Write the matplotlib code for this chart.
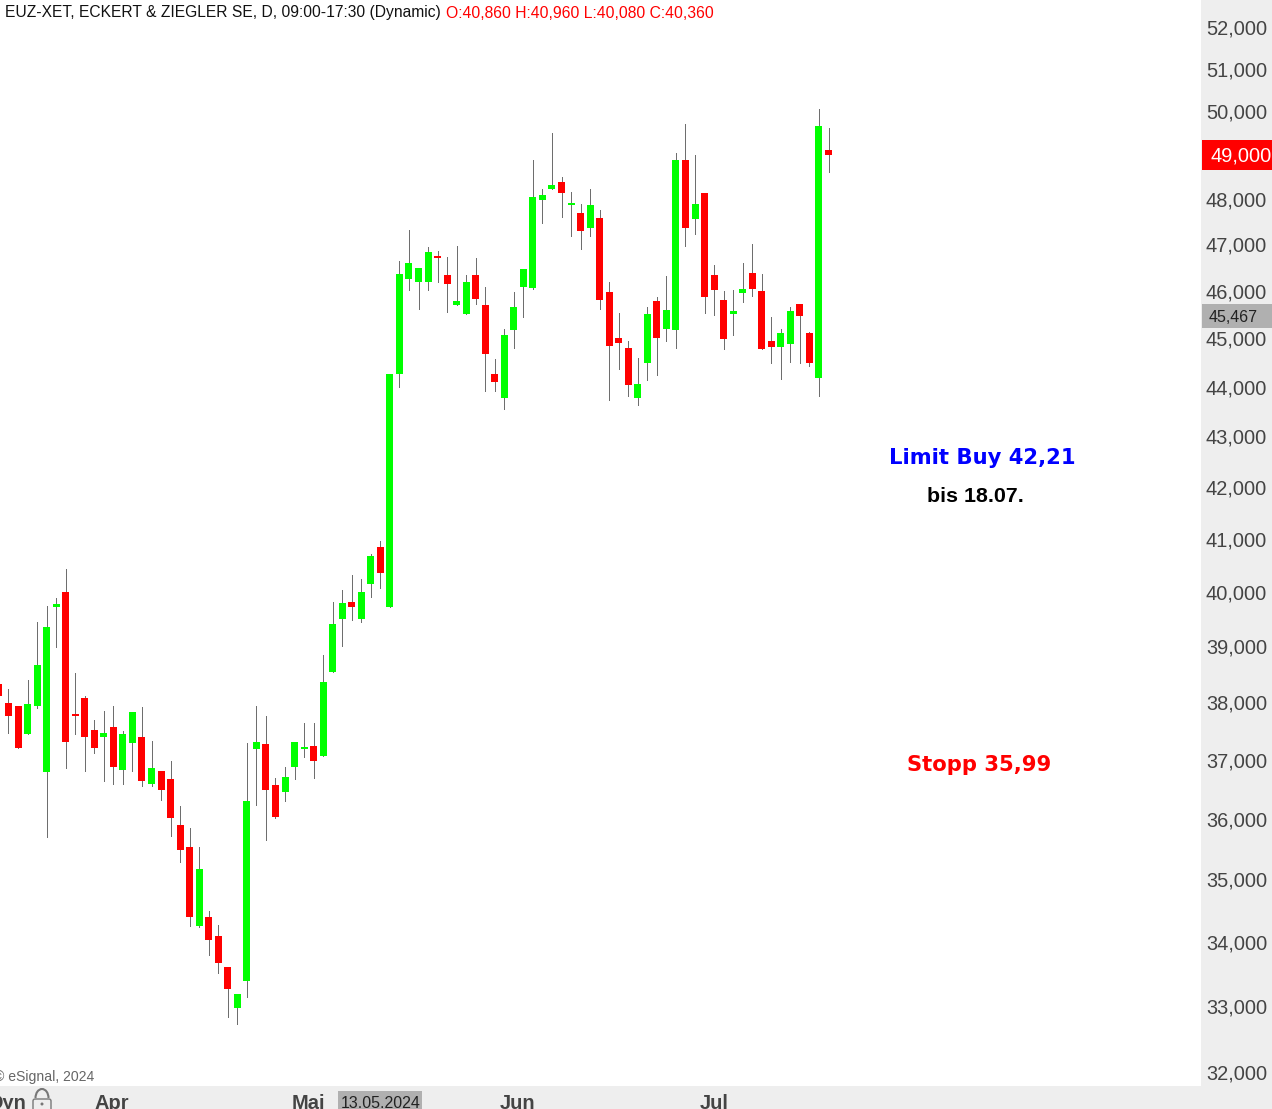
import numpy as np
import matplotlib
matplotlib.use('Agg')
import matplotlib.pyplot as plt
from matplotlib.patches import Rectangle, FancyBboxPatch, Arc, Circle
from matplotlib.transforms import ScaledTranslation

# daily candles
opens = [38330,38000,37940,37450,37940,36800,39730,40010,37800,38090,37520,37400,37580,36830,37300,37400,36590,36820,36680,35900,
         35540,34260,34400,34100,33610,32980,33400,37190,37280,36580,36460,36880,37190,37250,37070,38550,39510,39820,39510,40160,
         40860,39730,44270,46260,46200,46200,46760,46350,45710,45520,46350,45710,44270,43780,45180,46090,46070,47990,48240,48390,
         47880,47700,47370,47590,45990,45010,44800,43780,44490,45790,45200,45180,48890,47570,48150,46350,45810,45520,45960,46390,
         46010,44950,44830,44890,45730,45120,44190,49120]
highs = [38330,38240,37940,38400,39450,39750,39900,40440,38530,38120,37700,37860,37940,37510,37840,37930,37330,36820,36990,36220,
         35850,35540,34500,34280,33610,33200,37300,37940,37770,36700,36880,37320,37650,37650,38850,39820,40040,40320,40250,40720,
         40960,44270,46650,47330,46500,46960,46870,46740,46980,46350,46720,46090,44580,45200,45990,46480,48890,48240,49510,48510,
         48170,47900,48240,47770,46200,45540,44950,44600,45670,45880,46330,49050,49720,49000,48150,46570,46010,46030,46610,47020,
         46370,45450,45200,45670,45730,45140,50060,49620]
lows = [38120,37470,37210,37450,37910,35710,39000,36870,37450,36820,37130,36650,36590,36590,36820,36560,36560,36320,35720,35290,
        34260,34240,33800,33520,32840,32740,33150,36240,35660,36020,36310,36680,37060,36700,37070,38550,39020,39490,39450,39910,
        40080,39730,44000,46030,45620,46030,46200,45560,45710,45520,45730,43920,43920,43550,44800,45450,46050,47480,48240,47610,
        47200,46910,47200,45620,43740,44370,43820,43630,44140,44250,44950,44800,46980,47240,45540,45500,44780,45080,45770,45900,
        44780,44490,44160,44510,44490,44430,43820,48620]
closes = [38120,37770,37210,37980,38670,39360,39780,37320,37770,37400,37210,37470,36880,37450,37840,36650,36870,36490,36020,35490,
          34400,35180,34040,33680,33270,33200,36310,37320,36490,36040,36710,37320,37230,36990,38370,39420,39800,39730,40010,40680,
          40360,44270,46370,46610,46500,46850,46720,46160,45790,46200,45840,44680,44100,45080,45670,46480,48060,48100,48330,48150,
          47920,47310,47880,45810,44850,44910,44040,44060,45520,45010,45600,48890,47370,47900,45880,46030,44990,45580,46050,46050,
          44780,44830,45120,45580,45480,44490,49670,49000]

price_ticks = [32000,33000,34000,35000,36000,37000,38000,39000,40000,41000,42000,43000,44000,45000,46000,47000,48000,50000,51000,52000]
tick_labels = ['32,000','33,000','34,000','35,000','36,000','37,000','38,000','39,000','40,000','41,000','42,000','43,000','44,000','45,000','46,000','47,000','48,000','50,000','51,000','52,000']
months = ['Apr','Mai','Jun','Jul']
month_x = [94.5,291.5,499.5,699.5]

plt.rcParams['font.family'] = ['Liberation Sans','DejaVu Sans']
W, H = 1272, 1109
fig = plt.figure(figsize=(W/100,H/100),dpi=100,facecolor='#eeeeee')

# price pane, log scale, axis labels in the grey strip on the right
ax = fig.add_axes([0,(H-1086)/H,1201/W,1086/H])
ax.set_yscale('log')
step = 9.535
first = -1.035
x = np.arange(len(opens))
o, h, l, c = [np.array(v) for v in (opens,highs,lows,closes)]
ax.set_xlim(-first/step,(1201-first)/step)
ax.set_ylim(31807,52661)
colors = ['#00ff00' if b >= a else '#ff0000' for a, b in zip(opens,closes)]
ax.vlines(x,l,h,color='#6e6e6e',lw=0.72,antialiased=False,zorder=1)
ax.bar(x,np.abs(c-o),bottom=np.minimum(o,c),width=7/step,color=colors,lw=0,zorder=2)
for s in ax.spines.values():
    s.set_visible(False)
ax.yaxis.tick_right()
ax.set_yticks(price_ticks,tick_labels)
ax.minorticks_off()
ax.set_xticks([])
ax.tick_params(axis='y',length=0,pad=3.5,labelsize=14.4,labelcolor='#444444')
for lab in ax.get_yticklabels():
    lab.set_transform(lab.get_transform()+ScaledTranslation(0,0.005,fig.dpi_scale_trans))

# everything else sits on an overlay in picture pixels
ov = fig.add_axes([0,0,1,1])
ov.set_xlim(0,W)
ov.set_ylim(H,0)
ov.axis('off')

ov.add_patch(Rectangle((1202,140),70,30,fc='#ff0000',lw=0))
ov.text(1210.5,156,'49,000',color='white',fontsize=14.4,va='center')
ov.add_patch(Rectangle((1202,304),70,24,fc='#b0b0b0',lw=0))
ov.text(1209,317,'45,467',color='#222222',fontsize=11.5,va='center')
ov.add_patch(Rectangle((338,1091),84,18,fc='#b0b0b0',lw=0))
ov.text(341,1108.5,'13.05.2024',color='#222222',fontsize=11.5,va='baseline')

ov.text(5,13,'EUZ-XET, ECKERT & ZIEGLER SE, D, 09:00-17:30 (Dynamic)',color='#111111',fontsize=11.25,va='center')
ov.text(446,13,'O:40,860 H:40,960 L:40,080 C:40,360',color='#ff0000',fontsize=11.3,va='center')
ov.text(-6,1077,'© eSignal, 2024',color='#666666',fontsize=10.1,va='center')

for name, mx in zip(months,month_x):
    ov.text(mx,1109,name,color='#444444',fontsize=14.4,fontweight='bold',va='baseline')
ov.text(26,1109,'Dyn',color='#444444',fontsize=14.4,fontweight='bold',va='baseline',ha='right')

# padlock
ov.add_patch(FancyBboxPatch((33,1099),18,15,boxstyle='round,pad=0,rounding_size=2',fc='none',ec='#777777',lw=1))
ov.add_patch(Arc((42,1098),13,18,theta1=180,theta2=360,ec='#777777',lw=1.5))
ov.add_patch(Circle((42,1104),1.5,fc='#777777',lw=0))

ov.text(982.5,457.5,'Limit Buy 42,21',color='#0000ff',fontsize=15.2,fontweight='bold',family='DejaVu Sans',va='center',ha='center')
ov.text(975,497,'bis 18.07.',color='black',fontsize=15.4,fontweight='bold',va='center',ha='center')
ov.text(979.5,765,'Stopp 35,99',color='#ff0000',fontsize=15.2,fontweight='bold',family='DejaVu Sans',va='center',ha='center')

fig.savefig('out.png',dpi=100,facecolor=fig.get_facecolor())
